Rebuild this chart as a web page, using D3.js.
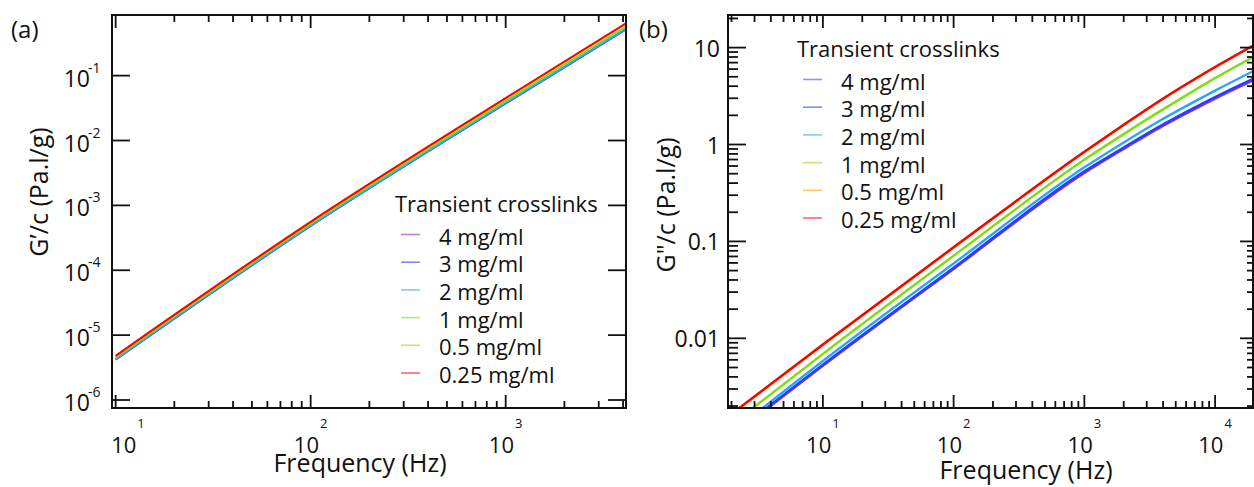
<!DOCTYPE html>
<html>
<head>
<meta charset="utf-8">
<script src="https://cdn.jsdelivr.net/npm/d3@7"></script>
<style>
body { margin: 0; background: #fff; overflow: hidden; }
svg { display: block; }
svg text { font-family: "Open Sans", sans-serif; fill: #111; }
</style>
</head>
<body>
<div id="vis"></div>
<script>
const WIDTH = 1254;
const HEIGHT = 487;

// concentrations, back to front
const CONCS = ["4 mg/ml", "3 mg/ml", "2 mg/ml", "1 mg/ml", "0.5 mg/ml", "0.25 mg/ml"];
const COLORS = ["#8a2be2", "#2142f5", "#2aa4ff", "#7ddf0e", "#ffa500", "#ff0000"];

// (a) G'/c
const FREQ_A = [10, 100, 1000, 4140];
const GP_4 = [4.2e-6, 4.82e-4, 0.0373, 0.515];
const GP_3 = [4.22e-6, 4.85e-4, 0.0375, 0.52];
const GP_2 = [4.27e-6, 4.9e-4, 0.038, 0.525];
const GP_1 = [4.53e-6, 5.19e-4, 0.0407, 0.569];
const GP_05 = [4.76e-6, 5.52e-4, 0.0448, 0.635];
const GP_025 = [4.8e-6, 5.58e-4, 0.0451, 0.64];

// (b) G''/c
const FREQ_B = [2, 10, 100, 1000, 2000, 3800, 6500, 10000, 20000];
const GPP_4 = [0.00097, 0.0052, 0.052, 0.508, 0.90, 1.50, 2.21, 2.98, 4.66];
const GPP_3 = [0.00100, 0.00535, 0.0535, 0.53, 0.933, 1.55, 2.29, 3.09, 4.84];
const GPP_2 = [0.00106, 0.00583, 0.0592, 0.581, 1.05, 1.77, 2.64, 3.6, 5.8];
const GPP_1 = [0.00129, 0.0069, 0.071, 0.697, 1.28, 2.21, 3.43, 4.84, 8.13];
const GPP_05 = [0.00165, 0.0086, 0.0866, 0.836, 1.59, 2.83, 4.44, 6.27, 10.6];
const GPP_025 = [0.00166, 0.00865, 0.0871, 0.841, 1.60, 2.85, 4.47, 6.31, 10.7];

// tick labels
const X_MAJOR_A = [10, 100, 1000];
const X_EXP_A = ["1", "2", "3"];
const Y_MAJOR_A = [1e-6, 1e-5, 1e-4, 1e-3, 1e-2, 1e-1];
const Y_EXP_A = ["-6", "-5", "-4", "-3", "-2", "-1"];
const X_MAJOR_B = [10, 100, 1000, 10000];
const X_EXP_B = ["1", "2", "3", "4"];
const Y_MAJOR_B = [0.01, 0.1, 1, 10];
const Y_LABELS_B = ["0.01", "0.1", "1", "10"];

const svg = d3.select("#vis")
  .append("svg")
    .attr("width", WIDTH)
    .attr("height", HEIGHT);

function isMinor(v) {
  const l = Math.log10(v);
  return Math.abs(l - Math.round(l)) > 1e-6;
}

// inward tick marks
function tickSet(g, side, scale, at, values, len) {
  const horiz = (side == "bottom" || side == "top");
  const dir = (side == "bottom" || side == "right") ? -1 : 1;
  values.forEach((v) => {
    const s = scale(v);
    g.append("line")
      .attr("x1", horiz ? s : at)
      .attr("x2", horiz ? s : at + dir * len)
      .attr("y1", horiz ? at : s)
      .attr("y2", horiz ? at + dir * len : s)
      .attr("stroke", "#111")
      .attr("stroke-width", 1.8);
  });
}

function drawPanel(p) {
  const g = svg.append("g");
  const x = d3.scaleLog().domain(p.xDomain).range([p.left, p.right]);
  const y = d3.scaleLog().domain(p.yDomain).range([p.bottom, p.top]);

  const clipId = "clip-" + p.name;
  svg.append("clipPath").attr("id", clipId)
    .append("rect")
      .attr("x", p.left).attr("y", p.top)
      .attr("width", p.right - p.left).attr("height", p.bottom - p.top);

  const line = d3.line()
    .x(d => x(d[0]))
    .y(d => y(d[1]))
    .curve(d3.curveMonotoneX);

  g.append("g")
    .attr("clip-path", "url(#" + clipId + ")")
    .selectAll("path")
    .data(p.series)
    .enter()
    .append("path")
      .attr("d", (s) => line(p.freq.map((f, i) => [f, s[i]])))
      .attr("fill", "none")
      .attr("stroke", (s, i) => COLORS[i])
      .attr("stroke-width", p.lineWidth);

  g.append("rect")
    .attr("x", p.left).attr("y", p.top)
    .attr("width", p.right - p.left).attr("height", p.bottom - p.top)
    .attr("fill", "none")
    .attr("stroke", "#111")
    .attr("stroke-width", 2);

  // ticks, all pointing inward
  const xMinor = x.ticks().filter(isMinor);
  tickSet(g, "bottom", x, p.bottom, p.xMajor, 13);
  tickSet(g, "bottom", x, p.bottom, xMinor, 7);
  tickSet(g, "top", x, p.top, p.xMajor, 13);
  tickSet(g, "top", x, p.top, xMinor, 7);
  tickSet(g, "left", y, p.left, p.yMajor, 18);
  tickSet(g, "right", y, p.right, p.yMajor, p.rightMajor);
  if (p.yMinorTicks) {
    const yMinor = y.ticks().filter(isMinor);
    tickSet(g, "left", y, p.left, yMinor, 10);
    tickSet(g, "right", y, p.right, yMinor, 6);
  }

  // x tick labels 10^n
  p.xMajor.forEach((v, i) => {
    const t = g.append("text")
      .attr("x", Math.max(x(v), p.left + 16))
      .attr("y", p.bottom + 45)
      .attr("text-anchor", "middle")
      .attr("font-size", 22);
    t.append("tspan").text("10");
    t.append("tspan").attr("dy", -25).attr("dx", 1).attr("font-size", 13).text(p.xExp[i]);
  });

  // y tick labels
  if (p.yExp) {
    p.yMajor.forEach((v, i) => {
      g.append("text")
        .attr("x", p.left - 22).attr("y", y(v) + 11)
        .attr("text-anchor", "end")
        .attr("font-size", 23)
        .text("10");
      g.append("text")
        .attr("x", p.left - 24).attr("y", y(v) - 3)
        .attr("font-size", 14)
        .text(p.yExp[i]);
    });
  } else {
    p.yMajor.forEach((v, i) => {
      g.append("text")
        .attr("x", p.left - 8).attr("y", y(v) + 9)
        .attr("text-anchor", "end")
        .attr("font-size", 23)
        .text(p.yLabels[i]);
    });
  }

  // axis titles
  g.append("text")
    .attr("x", p.xTitle[0]).attr("y", p.xTitle[1])
    .attr("text-anchor", "middle")
    .attr("font-size", 25)
    .text("Frequency (Hz)");
  g.append("text")
    .attr("transform", `translate(${p.yTitle[0]},${p.yTitle[1]}) rotate(-90)`)
    .attr("text-anchor", "middle")
    .attr("font-size", 25)
    .text(p.yTitleText);

  g.append("text")
    .attr("x", p.tag[0]).attr("y", p.tag[1])
    .attr("font-size", 24)
    .text(p.tagText);

  // legend
  const lg = g.append("g").attr("transform", `translate(${p.legend[0]},${p.legend[1]})`);
  lg.append("text")
    .attr("x", 0).attr("y", 0)
    .attr("font-size", 22)
    .text("Transient crosslinks");
  CONCS.forEach((c, i) => {
    const yy = 32.5 + i * 27.7;
    lg.append("line")
      .attr("x1", 6).attr("x2", 25)
      .attr("y1", yy - 10).attr("y2", yy - 10)
      .attr("stroke", COLORS[i])
      .attr("stroke-width", 1.6)
      .attr("stroke-opacity", 0.6);
    lg.append("text")
      .attr("x", 44).attr("y", yy)
      .attr("font-size", 22)
      .text(c);
  });
}

drawPanel({
  name: "a",
  left: 112, right: 626, top: 15, bottom: 408,
  xDomain: [9.58, 4140], yDomain: [7.53e-7, 0.86],
  freq: FREQ_A,
  series: [GP_4, GP_3, GP_2, GP_1, GP_05, GP_025],
  lineWidth: 2,
  xMajor: X_MAJOR_A, xExp: X_EXP_A,
  yMajor: Y_MAJOR_A, yExp: Y_EXP_A,
  yMinorTicks: false, rightMajor: 18,
  xTitle: [360, 472], yTitle: [48, 192],
  yTitleText: "G\u2019/c (Pa.l/g)",
  tag: [11, 38], tagText: "(a)",
  legend: [395, 212]
});

drawPanel({
  name: "b",
  left: 728, right: 1253, top: 15, bottom: 408,
  xDomain: [1.88, 19500], yDomain: [0.00191, 21.7],
  freq: FREQ_B,
  series: [GPP_4, GPP_3, GPP_2, GPP_1, GPP_05, GPP_025],
  lineWidth: 2.4,
  xMajor: X_MAJOR_B, xExp: X_EXP_B,
  yMajor: Y_MAJOR_B, yLabels: Y_LABELS_B,
  yMinorTicks: true, rightMajor: 13,
  xTitle: [1026, 479], yTitle: [675, 205],
  yTitleText: "G\"/c (Pa.l/g)",
  tag: [639, 38], tagText: "(b)",
  legend: [797, 57]
});
</script>
</body>
</html>
